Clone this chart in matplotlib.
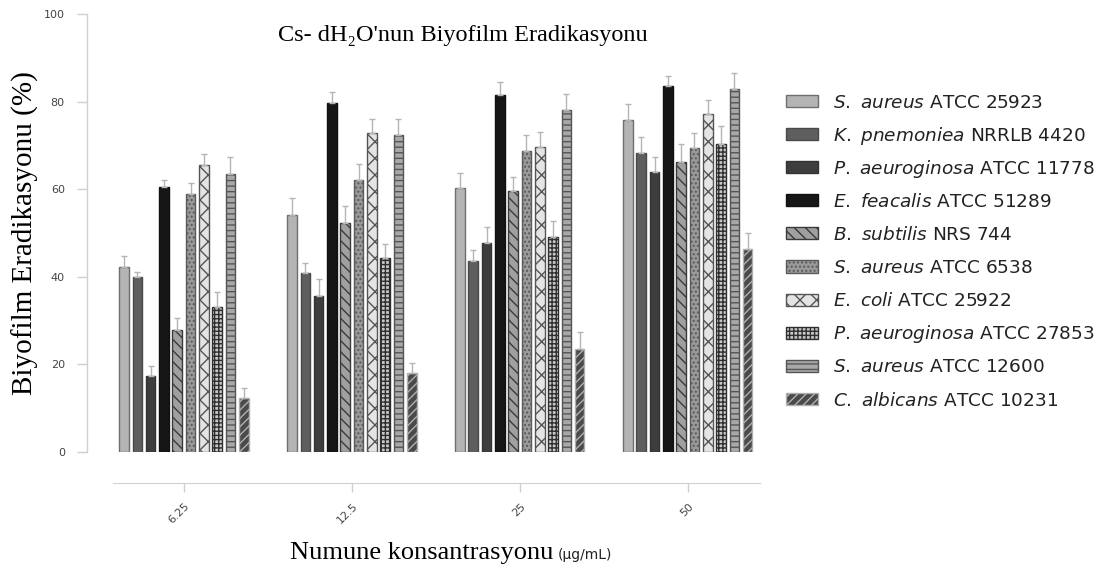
import numpy as np
import matplotlib
matplotlib.use("Agg")
import matplotlib.pyplot as plt
from matplotlib.patches import Rectangle
from matplotlib.legend_handler import HandlerPatch
from matplotlib.transforms import ScaledTranslation

concentrations = ["6.25", "12.5", "25", "50"]
strains = [
    r"$\it{S.}$ $\it{aureus}$ ATCC 25923",
    r"$\it{K.}$ $\it{pnemoniea}$ NRRLB 4420",
    r"$\it{P.}$ $\it{aeuroginosa}$ ATCC 11778",
    r"$\it{E.}$ $\it{feacalis}$ ATCC 51289",
    r"$\it{B.}$ $\it{subtilis}$ NRS 744",
    r"$\it{S.}$ $\it{aureus}$ ATCC 6538",
    r"$\it{E.}$ $\it{coli}$ ATCC 25922",
    r"$\it{P.}$ $\it{aeuroginosa}$ ATCC 27853",
    r"$\it{S.}$ $\it{aureus}$ ATCC 12600",
    r"$\it{C.}$ $\it{albicans}$ ATCC 10231",
]
# values[strain][concentration]
values = [
    [42.2, 54.1, 60.2, 75.8],
    [40.0, 40.9, 43.6, 68.3],
    [17.4, 35.6, 47.7, 63.9],
    [60.5, 79.7, 81.5, 83.6],
    [27.9, 52.3, 59.6, 66.2],
    [58.9, 62.1, 68.7, 69.4],
    [65.5, 72.8, 69.6, 77.2],
    [33.1, 44.3, 49.1, 70.3],
    [63.5, 72.4, 78.1, 82.9],
    [12.3, 18.0, 23.5, 46.3],
]
errors = [
    [2.5, 3.9, 3.5, 3.7],
    [1.0, 2.3, 2.5, 3.6],
    [2.2, 4.0, 3.7, 3.5],
    [1.5, 2.5, 3.0, 2.2],
    [2.6, 3.9, 3.2, 4.1],
    [2.5, 3.7, 3.7, 3.4],
    [2.5, 3.2, 3.5, 3.2],
    [3.4, 3.2, 3.6, 4.1],
    [3.8, 3.6, 3.6, 3.6],
    [2.3, 2.3, 3.9, 3.7],
]

styles = [
    dict(facecolor="#b4b4b4", edgecolor="#6e6e6e", hatch=None),
    dict(facecolor="#5e5e5e", edgecolor="#4a4a4a", hatch=None),
    dict(facecolor="#3e3e3e", edgecolor="#333333", hatch=None),
    dict(facecolor="#161616", edgecolor="#111111", hatch=None),
    dict(facecolor="#a0a0a0", edgecolor="#3a3a3a", hatch="\\\\\\"),
    dict(facecolor="#9a9a9a", edgecolor="#5a5a5a", hatch="...."),
    dict(facecolor="#e4e4e4", edgecolor="#555555", hatch="xx"),
    dict(facecolor="#c8c8c8", edgecolor="#2e2e2e", hatch="++++"),
    dict(facecolor="#a8a8a8", edgecolor="#555555", hatch="---"),
    dict(facecolor="#4a4a4a", edgecolor="#b0b0b0", hatch="////"),
]

W, H = 1109, 583
fig = plt.figure(figsize=(W / 100, H / 100), dpi=100)
plt.rcParams["hatch.linewidth"] = 1.0

def fx(px):
    return px / W

def fy(py):
    return 1 - py / H

# main axes (bars)
ax = fig.add_axes([fx(87), fy(452), fx(760) - fx(87), fy(14) - fy(452)])
for s in ["top", "right"]:
    ax.spines[s].set_visible(False)
ax.spines["bottom"].set_position(("outward", 22.3))
ax.spines["left"].set_color("#d0d0d0")
ax.spines["left"].set_linewidth(1.0)
ax.spines["bottom"].set_color("#d0d0d0")

n = len(strains)
pitch = 0.0792
width = 0.057
x = np.arange(len(concentrations))
handles = []
for i in range(n):
    off = (i - (n - 1) / 2) * pitch
    st = styles[i]
    b = ax.bar(x + off, values[i], width=width, facecolor=st["facecolor"],
               edgecolor=st["edgecolor"], hatch=st["hatch"], linewidth=1.0,
               label=strains[i], zorder=2)
    handles.append(b)
    ax.errorbar(x + off, values[i],
                yerr=[np.zeros(len(concentrations)), errors[i]],
                fmt="none", ecolor="#b5b5b5", elinewidth=1.0, capsize=2,
                capthick=1.0, zorder=3)

ax.set_xlim(-0.577, 3.43)
ax.set_ylim(0, 100)
ax.spines["bottom"].set_bounds(-0.423, 3.43)
ax.set_yticks([0, 20, 40, 60, 80, 100])
ax.tick_params(axis="y", length=7, width=1, color="#cfcfcf", pad=9,
               labelsize=8, labelcolor="#444444")
ax.tick_params(axis="x", length=6.5, width=1, color="#cfcfcf", pad=9,
               labelsize=8, labelcolor="#444444")
ax.set_xticks(x)
ax.set_xticklabels(concentrations, rotation=45, ha="right", va="center",
                   rotation_mode="anchor")
shift = ScaledTranslation(4 / 100, 0, fig.dpi_scale_trans)
for lab in ax.get_xticklabels():
    lab.set_transform(lab.get_transform() + shift)
ax.patch.set_alpha(0)

# texts
fig.text(fx(463), fy(41), "Cs- dH\u2082O'nun Biyofilm Eradikasyonu",
         family=["Liberation Serif", "DejaVu Serif"], fontsize=17.5,
         ha="center", va="baseline")
fig.text(fx(25), fy(233), "Biyofilm Eradikasyonu (%)",
         family=["Liberation Serif", "DejaVu Serif"], fontsize=21,
         rotation=90, ha="center", va="center")
fig.text(fx(553), fy(559), "Numune konsantrasyonu",
         family=["Liberation Serif", "DejaVu Serif"], fontsize=19,
         ha="right", va="baseline")
fig.text(fx(558), fy(559), "(\u00b5g/mL)", family="DejaVu Sans",
         fontsize=10, ha="left", va="baseline", color="#222222")


def small_rect(legend, orig_handle, xdescent, ydescent, width, height,
               fontsize):
    h = 0.66 * fontsize
    return Rectangle((-xdescent, 0.36 * fontsize - h / 2), width, h)


fs = 13.3
fs_px = fs * 100 / 72
row_px = 33.1
hh = 2.0
box_px = fs_px * hh - 0.35 * fs_px * (hh - 0.7)
ls = (row_px - box_px) / fs_px
top_px = 101 - (box_px - 0.35 * fs_px * (hh - 0.7)) + 0.36 * fs_px
leg = fig.legend(handles=[h[0] for h in handles], labels=strains,
                 loc="upper left", bbox_to_anchor=(fx(786), fy(top_px)),
                 frameon=False, fontsize=fs, handlelength=1.72,
                 handleheight=hh, handletextpad=0.85, labelspacing=ls,
                 borderaxespad=0, borderpad=0,
                 handler_map={Rectangle: HandlerPatch(patch_func=small_rect)})
for t in leg.get_texts():
    t.set_color("#222222")

fig.savefig("out.png", dpi=100)
